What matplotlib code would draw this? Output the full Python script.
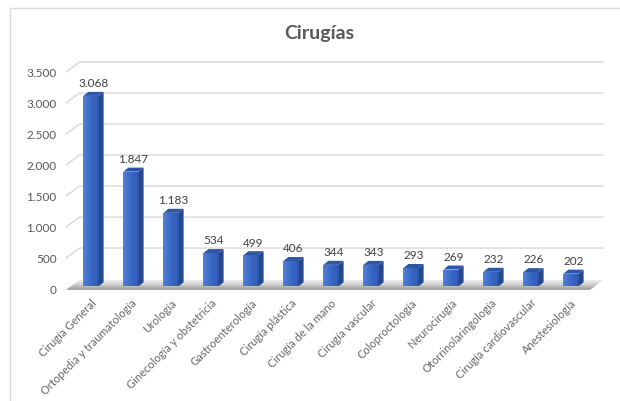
import numpy as np
import matplotlib.pyplot as plt
from matplotlib.patches import Polygon, Rectangle
from matplotlib.colors import LinearSegmentedColormap

plt.rcParams['font.family'] = ['Lato', 'DejaVu Sans']

# data
categorias = ['Cirugía General', 'Ortopedia y traumatología', 'Urología',
              'Ginecología y obstetricia', 'Gastroenterología', 'Cirugía plástica',
              'Cirugía de la mano', 'Cirugía vascular', 'Coloproctología',
              'Neurocirugía', 'Otorrinolaringología', 'Cirugía cardiovascular',
              'Anestesiología']
cirugias = [3068, 1847, 1183, 534, 499, 406, 344, 343, 293, 269, 232, 226, 202]
yticks = [0, 500, 1000, 1500, 2000, 2500, 3000, 3500]


def fmt(v):
    return f'{v:,}'.replace(',', '.')


fig = plt.figure(figsize=(6.2, 4.02), dpi=100)
# light chart frame
fig.patches.append(Rectangle((10 / 620, -0.1), 1.2, 1 - 9 / 402 + 0.1,
                             transform=fig.transFigure, fill=False,
                             edgecolor='#d9d9d9', lw=1))
ax = fig.add_axes([51 / 620, (402 - 299.3) / 402, 560 / 620, 245 / 402])
ax.set_xlim(-1.0, 13.0)
ax.set_ylim(-150, 3800)
for s in ax.spines.values():
    s.set_visible(False)
ax.set_xticks([])
ax.set_yticks(yticks)
ax.set_yticklabels([fmt(t) for t in yticks], fontsize=8.5, color='#595959')
ax.tick_params(axis='y', length=0, pad=-4)

x = np.arange(len(cirugias))
# 3D offsets
gx, gy = 0.33, 160     # wall depth
bx, by = 0.125, 65     # bar depth
xl, xr = -0.62, 12.47
w = 0.38
base = 45

# gridlines on the back wall
for t in yticks[1:]:
    ax.plot([xl, xl + gx, xr + gx], [t, t + gy, t + gy],
            color='#d9d9d9', lw=1, zorder=1)

# floor with a soft shadow
floor_cols = ['#e8e8e8', '#d4d4d4', '#bdbdbd', '#a5a5a5']
for k, c in enumerate(floor_cols):
    f = k / len(floor_cols)
    ax.add_patch(Polygon([(xl, -15), (xr, -15),
                          (xr + gx * (1 - f), -15 + gy * (1 - f)),
                          (xl + gx * (1 - f), -15 + gy * (1 - f))],
                         closed=True, facecolor=c, edgecolor='none', zorder=2))

# bars: front face with a horizontal gradient, darker side, lighter top
grad = LinearSegmentedColormap.from_list('g', ['#5282d8', '#3a67c4', '#2f5bb8'])
bars = ax.bar(x, cirugias, width=w, bottom=base, color='none', edgecolor='none', zorder=4)
for b in bars:
    bx0, by0 = b.get_x(), b.get_y()
    im = ax.imshow(np.linspace(0, 1, 32).reshape(1, -1), cmap=grad, aspect='auto',
                   extent=[bx0, bx0 + b.get_width(), by0, by0 + b.get_height()],
                   zorder=4, interpolation='bilinear')
    im.set_clip_path(b)
for xi, v in zip(x, cirugias):
    r = xi + w / 2
    top = base + v
    ax.add_patch(Polygon([(r, base), (r + bx, base + by), (r + bx, top + by), (r, top)],
                         closed=True, facecolor='#24468a', edgecolor='none', zorder=4))
    ax.add_patch(Polygon([(xi - w / 2, top), (r, top), (r + bx, top + by),
                          (xi - w / 2 + bx, top + by)],
                         closed=True, facecolor='#2f56a6', edgecolor='none', zorder=4))
    ax.text(xi + bx / 2, top + by + 60, fmt(v), ha='center', va='bottom',
            fontsize=8.5, color='#404040', zorder=5)
    ax.text(xi + 0.0, -120, categorias[xi], rotation=45, rotation_mode='anchor',
            ha='right', va='top', fontsize=8, color='#666666')

ax.set_xlim(-1.0, 13.0)
ax.set_ylim(-150, 3800)

fig.text(0.515, 1 - 33 / 402, 'Cirugías', ha='center', va='center',
         fontsize=14, fontweight='bold', color='#595959')

fig.savefig('out.png', dpi=100)
